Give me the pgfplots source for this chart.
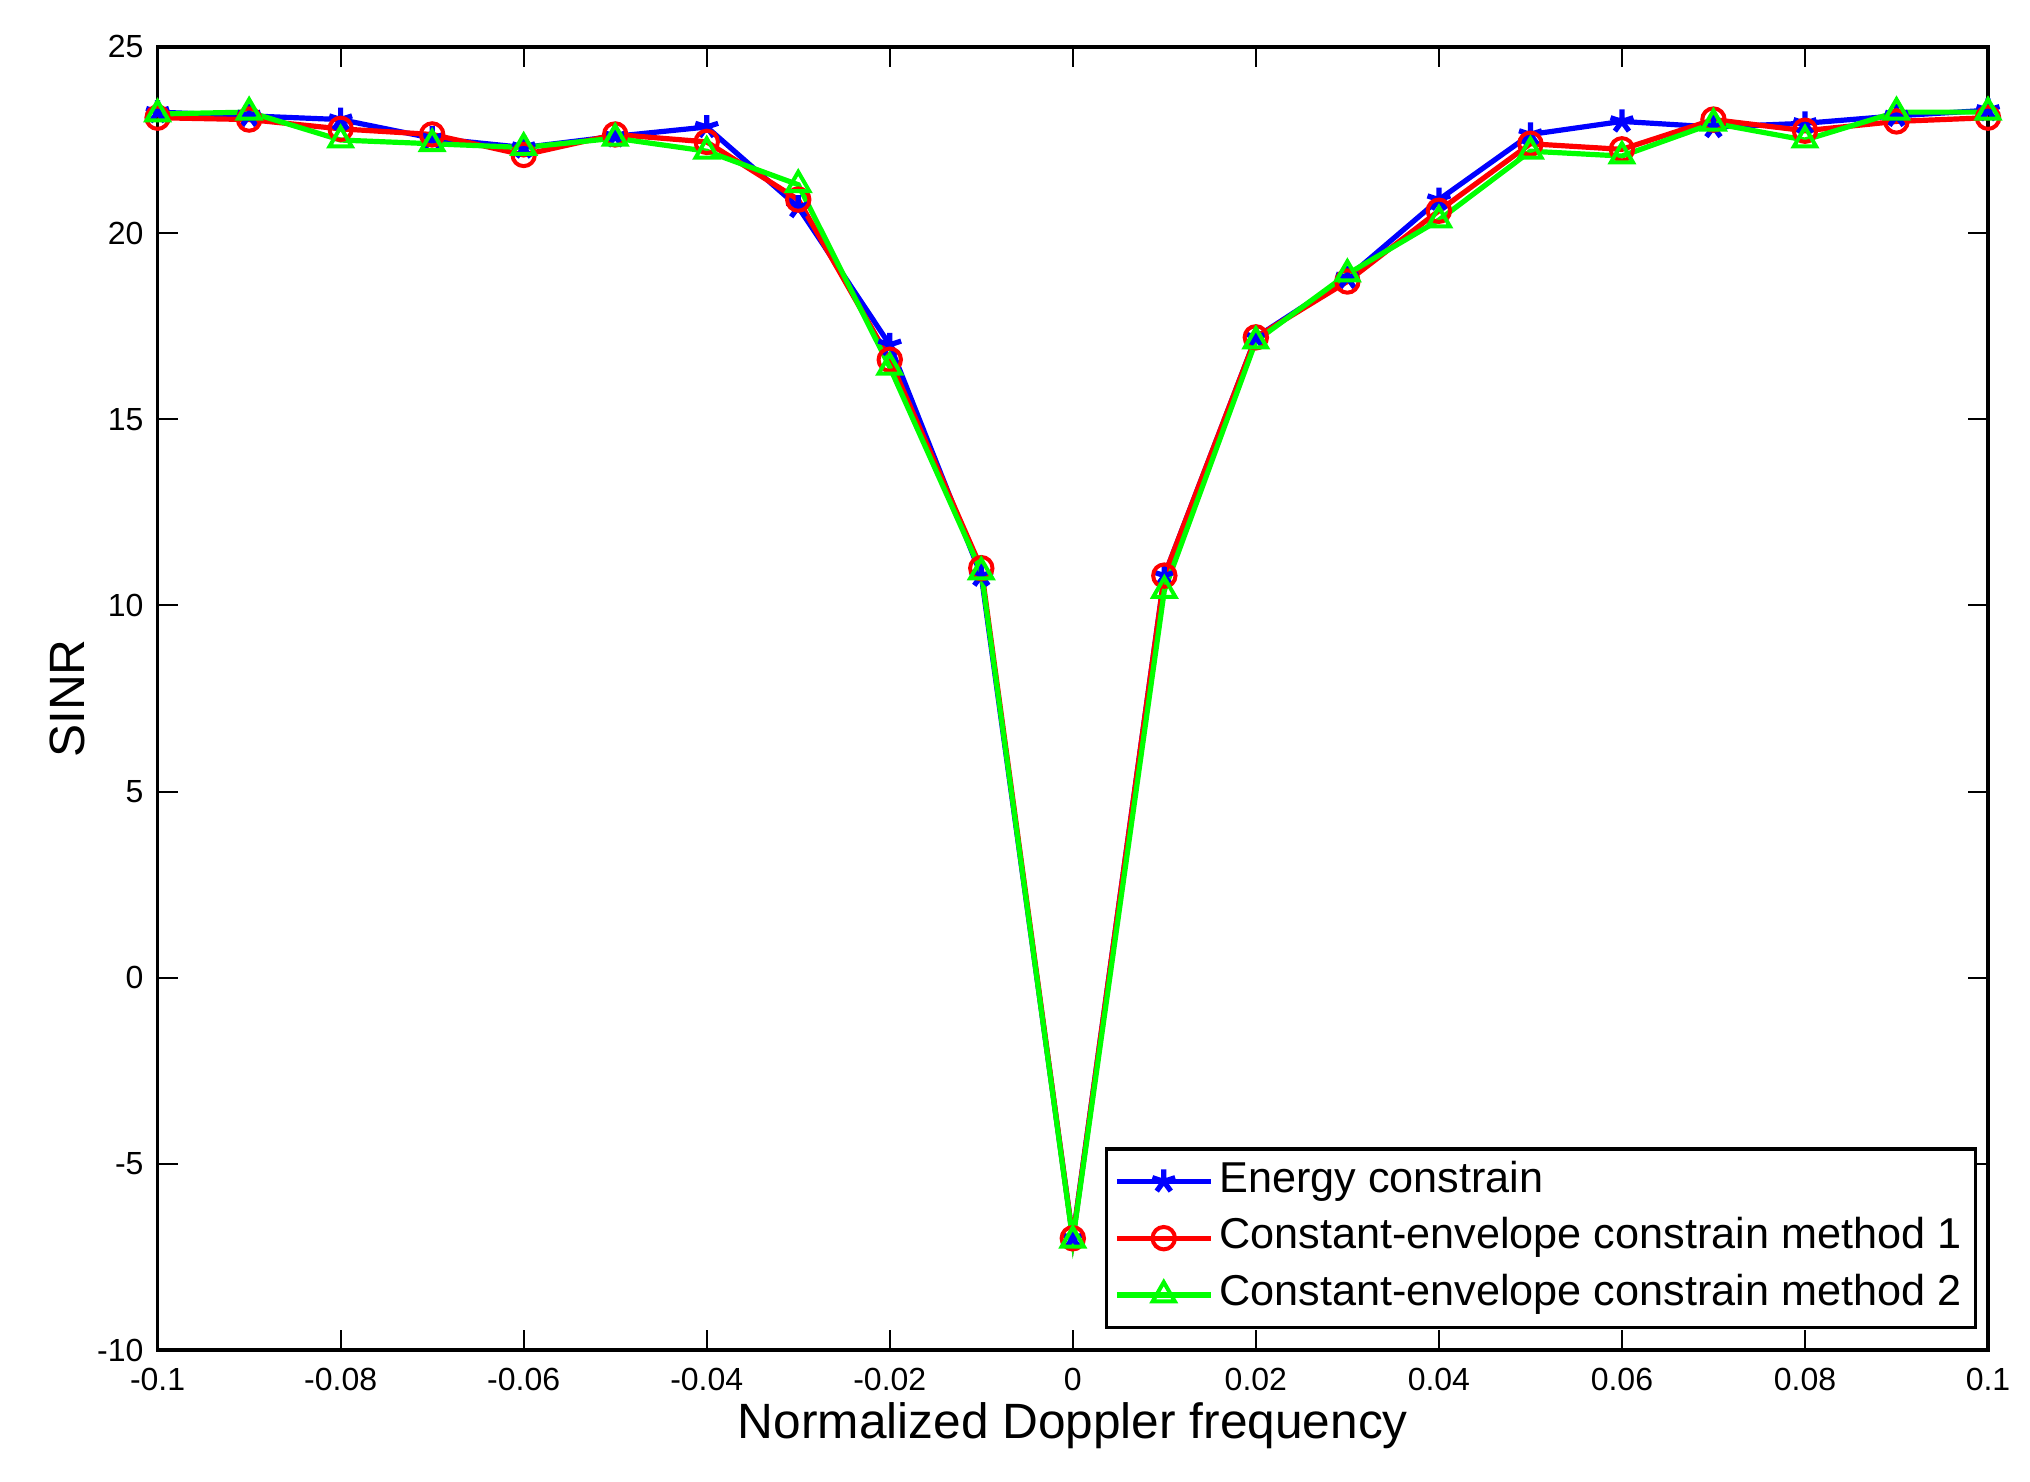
\documentclass[border=0pt]{standalone}
\usepackage{pgfplots}
\pgfplotsset{compat=1.18}
\usepackage{fontspec}
\setmainfont{Liberation Sans}
\usetikzlibrary{calc}
\begin{document}
\begin{tikzpicture}
\begin{axis}[
  scale only axis,
  width=457.6pt, height=325.75pt,
  xmin=-0.1, xmax=0.1, ymin=-10, ymax=25,
  xtick={-0.1,-0.08,-0.06,-0.04,-0.02,0,0.02,0.04,0.06,0.08,0.1},
  xticklabels={-0.1,-0.08,-0.06,-0.04,-0.02,0,0.02,0.04,0.06,0.08,0.1},
  ytick={-10,-5,0,5,10,15,20,25},
  yticklabels={-10,-5,0,5,10,15,20,25},
  scaled x ticks=false,
  tick align=inside,
  major tick length=5pt,
  every tick/.style={black, line width=0.5pt},
  axis line style={line width=0.8pt},
  tick label style={font=\fontsize{8pt}{9pt}\selectfont},
  xticklabel style={yshift=-1pt},
  /pgf/number format/assume math mode=true,
  xlabel={Normalized Doppler frequency},
  ylabel={SINR},
  label style={font=\fontsize{12.4pt}{14pt}\selectfont},
  xlabel style={at={(axis description cs:0.5,0)}, anchor=center, yshift=-19pt},
  ylabel style={at={(axis description cs:0,0.5)}, anchor=center, rotate=0, yshift=22.5pt},
  legend style={at={(rel axis cs:1,0)}, anchor=south east, xshift=-2.75pt, yshift=5.25pt,
    draw=black, line width=0.8pt, fill=white,
    font=\fontsize{10.8pt}{13pt}\selectfont,
    inner xsep=2pt, inner ysep=1pt, row sep=0pt,
    nodes={text height=7.8pt, text depth=2.4pt, inner ysep=2pt, inner xsep=1.5pt}},
  legend cell align=left,
  legend image code/.code={\draw[mark repeat=2,mark phase=2] plot coordinates {(0pt,0pt) (11.75pt,0pt) (23.5pt,0pt)};},
]
\addplot[color=blue, line width=1.3pt, mark=star, mark size=3pt, mark options={line width=1.3pt}] coordinates {
(-0.1,23.25) (-0.09,23.15) (-0.08,23.05) (-0.07,22.55) (-0.06,22.3) (-0.05,22.6) (-0.04,22.85)
(-0.03,20.7) (-0.02,17.0) (-0.01,10.8) (0,-7.0) (0.01,10.8) (0.02,17.2) (0.03,18.8)
(0.04,20.9) (0.05,22.65) (0.06,23.0) (0.07,22.85) (0.08,22.95) (0.09,23.15) (0.1,23.3)};
\addlegendentry{Energy constrain}
\addplot[color=red, line width=1.3pt, mark=o, mark size=2.8pt, mark options={line width=1pt}] coordinates {
(-0.1,23.1) (-0.09,23.05) (-0.08,22.8) (-0.07,22.65) (-0.06,22.1) (-0.05,22.65) (-0.04,22.45)
(-0.03,20.9) (-0.02,16.6) (-0.01,11.0) (0,-7.0) (0.01,10.8) (0.02,17.2) (0.03,18.7)
(0.04,20.6) (0.05,22.4) (0.06,22.25) (0.07,23.05) (0.08,22.75) (0.09,23.0) (0.1,23.1)};
\addlegendentry{Constant-envelope constrain method 1}
\addplot[color=green, line width=1.3pt, mark=triangle, mark size=3.2pt, mark options={line width=1pt}] coordinates {
(-0.1,23.2) (-0.09,23.25) (-0.08,22.5) (-0.07,22.4) (-0.06,22.3) (-0.05,22.55) (-0.04,22.2)
(-0.03,21.3) (-0.02,16.4) (-0.01,10.9) (0,-7.05) (0.01,10.4) (0.02,17.1) (0.03,18.9)
(0.04,20.35) (0.05,22.2) (0.06,22.07) (0.07,22.95) (0.08,22.5) (0.09,23.25) (0.1,23.25)};
\addlegendentry{Constant-envelope constrain method 2}
\end{axis}
\pgfresetboundingbox
\path[use as bounding box] ($(current axis.south west)+(-39.4pt,-33pt)$) rectangle ($(current axis.north east)+(10.5pt,11.75pt)$);
\end{tikzpicture}
\end{document}
